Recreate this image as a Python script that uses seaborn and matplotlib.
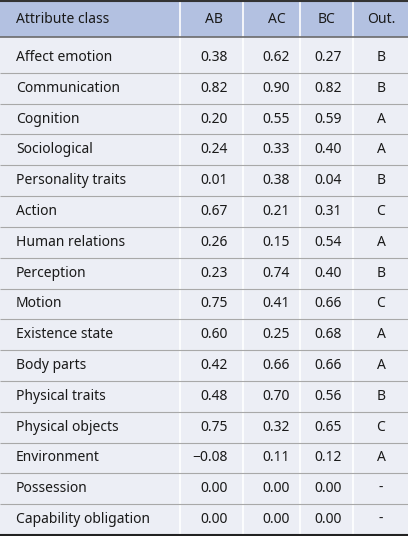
import matplotlib
matplotlib.use("Agg")
import matplotlib.pyplot as plt
import seaborn as sns
import pandas as pd

classes = ["Affect emotion", "Communication", "Cognition", "Sociological", "Personality traits",
           "Action", "Human relations", "Perception", "Motion", "Existence state", "Body parts",
           "Physical traits", "Physical objects", "Environment", "Possession", "Capability obligation"]
ab = ["0.38", "0.82", "0.20", "0.24", "0.01", "0.67", "0.26", "0.23", "0.75", "0.60", "0.42", "0.48", "0.75", "\u22120.08", "0.00", "0.00"]
ac = ["0.62", "0.90", "0.55", "0.33", "0.38", "0.21", "0.15", "0.74", "0.41", "0.25", "0.66", "0.70", "0.32", "0.11", "0.00", "0.00"]
bc = ["0.27", "0.82", "0.59", "0.40", "0.04", "0.31", "0.54", "0.40", "0.66", "0.68", "0.66", "0.56", "0.65", "0.12", "0.00", "0.00"]
out = ["B", "B", "A", "A", "B", "C", "A", "B", "C", "A", "A", "B", "C", "A", "-", "-"]
headers = ["Attribute class", "AB", "AC", "BC", "Out."]

df = pd.DataFrame({"cls": classes, "AB": ab, "AC": ac, "BC": bc, "Out": out})

sns.set_theme(style="white")
plt.rcParams['font.family'] = ['Noto Sans', 'DejaVu Sans']

W, H = 408, 536
fig = plt.figure(figsize=(W / 100, H / 100), dpi=100)
ax = fig.add_axes([0, 0, 1, 1])
ax.set_xlim(0, W)
ax.set_ylim(H, 0)
ax.axis("off")

hdr_bot = 37
body_top = 42
row_h = (H - 1 - body_top) / len(df)
fs = 10
txt = "#1a1a1a"

ax.axhspan(0, hdr_bot, color="#b3c1e1", lw=0)
ax.axhspan(hdr_bot, H - 1, color="#eceef5", lw=0)
for x in [180, 243, 300, 353]:
    ax.vlines(x, 2, H - 1, color="white", lw=1.2)
ax.hlines(1, 0, W, color="#333333", lw=1.5)
ax.hlines(hdr_bot, 0, W, color="#6b6b6b", lw=1.2)
ax.hlines(H - 1, 0, W, color="#222222", lw=1.5)
for i in range(1, len(df)):
    ax.hlines(body_top + i * row_h, 0, W, color="#a8a8a8", lw=0.8)

hy = hdr_bot / 2 + 1
ax.text(16, hy, headers[0], fontsize=fs, color=txt, va="center", ha="left")
for x, h in zip([214, 277, 327, 381], headers[1:]):
    ax.text(x, hy, h, fontsize=fs, color=txt, va="center", ha="center")

for i, r in df.iterrows():
    y = body_top + (i + 0.5) * row_h
    ax.text(16, y, r["cls"], fontsize=fs, color=txt, va="center", ha="left")
    ax.text(228, y, r["AB"], fontsize=fs, color=txt, va="center", ha="right")
    ax.text(290, y, r["AC"], fontsize=fs, color=txt, va="center", ha="right")
    ax.text(342, y, r["BC"], fontsize=fs, color=txt, va="center", ha="right")
    ax.text(381, y, r["Out"], fontsize=fs, color=txt, va="center", ha="center")

fig.savefig("out.png", dpi=100)
